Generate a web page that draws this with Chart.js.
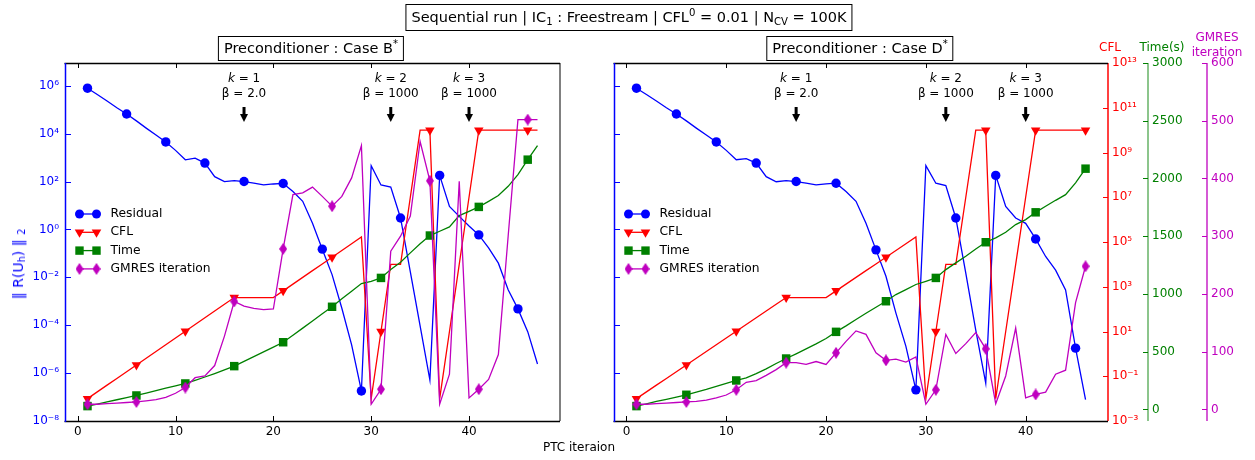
<!DOCTYPE html>
<html>
<head>
<meta charset="utf-8">
<script src="https://cdn.jsdelivr.net/npm/chart.js@4.4.1/dist/chart.umd.min.js"></script>
<style>
body { margin: 0; background: #fff; font-family: 'DejaVu Sans', sans-serif; }
#fig { position: relative; width: 1255px; height: 460px; overflow: hidden; }
canvas { position: absolute; top: 0; }
.txt { position: absolute; white-space: nowrap; line-height: 1; color: #000; }
.box { border: 1px solid #000; padding: 5px 5px 5px 5px; font-size: 14.5px; transform: translateX(-50%); }
.ctr { transform: translateX(-50%); font-size: 12px; }
sub { font-size: 70%; vertical-align: -0.25em; line-height: 0; }
sup { font-size: 70%; vertical-align: 0.55em; line-height: 0; }
</style>
</head>
<body>
<div id="fig">
  <canvas id="chartB" width="600" height="460" style="left:0"></canvas>
  <canvas id="chartD" width="655" height="460" style="left:600px"></canvas>

  <div class="txt box" style="left:629px; top:4px;">Sequential run | IC<sub>1</sub> : Freestream | CFL<sup>0</sup> = 0.01 | N<sub>CV</sub> = 100K</div>
  <div class="txt box" style="left:311px; top:36px; padding:4px 5px;">Preconditioner : Case B<sup>*</sup></div>
  <div class="txt box" style="left:860px; top:36px; padding:4px 5px;">Preconditioner : Case D<sup>*</sup></div>

  <div class="txt ctr" style="left:579px; top:441px; font-size:12px;">PTC iteraion</div>
  <div class="txt" style="left:18px; top:264px; font-size:14px; color:#0000ff; transform:translate(-50%,-50%) rotate(-90deg);">&#8214; R(U<sub>h</sub>) &#8214; <sub>2</sub></div>

  <div class="txt ctr" style="left:1110px; top:41px; color:#ff0000;">CFL</div>
  <div class="txt ctr" style="left:1162px; top:41px; color:#008000;">Time(s)</div>
  <div class="txt ctr" style="left:1217px; top:31px; color:#bf00bf;">GMRES</div>
  <div class="txt ctr" style="left:1217px; top:46px; color:#bf00bf;">iteration</div>
</div>

<script>
// PTC iterations
const itersB = [1, 2, 3, 4, 5, 6, 7, 8, 9, 10, 11, 12, 13, 14, 15, 16, 17, 18, 19, 20, 21, 22, 23, 24, 25, 26, 27, 28, 29, 30, 31, 32, 33, 34, 35, 36, 37, 38, 39, 40, 41, 42, 43, 44, 45, 46, 47];
const itersD = [1, 2, 3, 4, 5, 6, 7, 8, 9, 10, 11, 12, 13, 14, 15, 16, 17, 18, 19, 20, 21, 22, 23, 24, 25, 26, 27, 28, 29, 30, 31, 32, 33, 34, 35, 36, 37, 38, 39, 40, 41, 42, 43, 44, 45, 46];

// Case B*
const residualB = [7.9e5, 4.3e5, 2.3e5, 1.2e5, 6.6e4, 3.4e4, 1.7e4, 8.7e3, 4.5e3, 2.0e3,
    8.1e2, 9.5e2, 5.9e2, 1.6e2, 1.0e2, 1.1e2, 1.0e2, 85, 72, 79,
    83, 38, 15, 1.8, 0.15, 1.3e-2, 5.1e-4, 1.5e-5, 1.8e-7, 4.6e2,
    72, 59, 3.0, 1.7e-2, 9.3e-5, 5.1e-7, 1.8e2, 9.1, 3.5, 1.4,
    0.59, 0.17, 3.9e-2, 3.0e-3, 4.8e-4, 5.4e-5, 2.4e-6];
const cflB = [0.01, 0.02, 0.04, 0.08, 0.16, 0.32, 0.64, 1.28, 2.56, 5.12,
    10.2, 20.5, 41, 82, 164, 328, 328, 328, 328, 328,
    655, 1311, 2621, 5243, 10486, 20972, 41943, 83886, 167772, 0.01,
    10, 1e4, 1e4, 1e7, 1e10, 1e10, 0.01, 10, 1e4, 1e7,
    1e10, 1e10, 1e10, 1e10, 1e10, 1e10, 1e10];
const timeB = [29, 47, 66, 84, 103, 121, 142, 163, 184, 205,
    225, 252, 281, 311, 342, 375, 416, 457, 498, 540,
    582, 643, 704, 766, 828, 889, 958, 1024, 1090, 1110,
    1139, 1211, 1275, 1356, 1434, 1506, 1543, 1581, 1679, 1716,
    1754, 1802, 1852, 1932, 2033, 2163, 2284];
const gmresB = [9, 9, 10, 11, 12, 13, 15, 17, 21, 28,
    38, 55, 58, 76, 127, 187, 179, 175, 173, 174,
    278, 372, 375, 385, 369, 352, 369, 401, 457, 9,
    35, 274, 300, 335, 464, 396, 9, 61, 395, 20,
    35, 52, 95, 300, 502, 502, 502];

// Case D*
const residualD = [7.9e5, 4.3e5, 2.3e5, 1.2e5, 6.6e4, 3.4e4, 1.7e4, 8.7e3, 4.5e3, 2.0e3,
    8.1e2, 9.1e2, 5.9e2, 1.6e2, 98, 1.1e2, 1.0e2, 85, 72, 79,
    85, 38, 15, 1.8, 0.14, 1.1e-2, 3.2e-4, 1.3e-5, 2.0e-7, 4.6e2,
    85, 68, 3.0, 1.5e-2, 6.3e-5, 3.8e-7, 1.8e2, 9.1, 3.0, 1.8,
    0.40, 7.4e-2, 2.0e-2, 3.0e-3, 1.1e-5, 7.9e-8];
const cflD = [0.01, 0.02, 0.04, 0.08, 0.16, 0.32, 0.64, 1.28, 2.56, 5.12,
    10.2, 20.5, 41, 82, 164, 328, 328, 328, 328, 328,
    655, 1311, 2621, 5243, 10486, 20972, 41943, 83886, 167772, 0.01,
    10, 1e4, 1e4, 1e7, 1e10, 1e10, 0.01, 10, 1e4, 1e7,
    1e10, 1e10, 1e10, 1e10, 1e10, 1e10];
const timeD = [29, 49, 69, 87, 107, 127, 150, 173, 199, 225,
    251, 274, 311, 352, 398, 441, 482, 525, 568, 614,
    672, 724, 779, 833, 885, 937, 995, 1038, 1082, 1110,
    1139, 1211, 1269, 1327, 1390, 1448, 1486, 1534, 1601, 1644,
    1707, 1759, 1811, 1860, 1962, 2085];
const gmresD = [9, 9, 10, 11, 12, 13, 14, 16, 20, 25,
    34, 47, 50, 59, 69, 81, 81, 78, 83, 78,
    98, 118, 136, 130, 98, 85, 87, 82, 91, 9,
    34, 130, 97, 114, 133, 105, 10, 58, 141, 20,
    26, 30, 61, 68, 185, 248];

// ticks
const xTicks = [0, 10, 20, 30, 40];
const resTicks = [1e-8, 1e-6, 1e-4, 1e-2, 1, 1e2, 1e4, 1e6];
const cflTicks = [1e-3, 1e-1, 1e1, 1e3, 1e5, 1e7, 1e9, 1e11, 1e13];
const timeTicks = [0, 500, 1000, 1500, 2000, 2500, 3000];
const gmresTicks = [0, 100, 200, 300, 400, 500, 600];

// stage annotations
const annotIters = [17, 32, 40];
const annotK = ['1', '2', '3'];
const annotBeta = ['2.0', '1000', '1000'];

const seriesNames = ['Residual', 'CFL', 'Time', 'GMRES iteration'];

const BLUE = '#0000ff';
const RED = '#ff0000';
const GREEN = '#008000';
const MAGENTA = '#bf00bf';
const FONT = "'DejaVu Sans', sans-serif";

Chart.defaults.font.family = FONT;
Chart.defaults.font.size = 12;

// thin diamond marker
const diamond = document.createElement('canvas');
diamond.width = 8;
diamond.height = 12;
(function () {
    const c = diamond.getContext('2d');
    c.fillStyle = MAGENTA;
    c.beginPath();
    c.moveTo(4, 0);
    c.lineTo(8, 6);
    c.lineTo(4, 12);
    c.lineTo(0, 6);
    c.closePath();
    c.fill();
})();

const SUP = { '-': '\u207B', '0': '\u2070', '1': '\u00B9', '2': '\u00B2', '3': '\u00B3', '4': '\u2074', '5': '\u2075', '6': '\u2076', '7': '\u2077', '8': '\u2078', '9': '\u2079' };
function powLabel(v) {
    const e = String(Math.round(Math.log10(v)));
    return '10' + e.split('').map(ch => SUP[ch]).join('');
}

function drawMarker(ctx, kind, x, y, color) {
    ctx.fillStyle = color;
    ctx.beginPath();
    if (kind === 'circle') {
        ctx.arc(x, y, 4.5, 0, Math.PI * 2);
        ctx.fill();
    } else if (kind === 'tri') {
        ctx.moveTo(x - 4.8, y - 2.8);
        ctx.lineTo(x + 4.8, y - 2.8);
        ctx.lineTo(x, y + 5.5);
        ctx.closePath();
        ctx.fill();
    } else if (kind === 'square') {
        ctx.fillRect(x - 4.2, y - 4.2, 8.4, 8.4);
    } else {
        ctx.drawImage(diamond, x - 4, y - 6);
    }
}

function line(ctx, x1, y1, x2, y2, color, w) {
    ctx.strokeStyle = color;
    ctx.lineWidth = w || 1;
    ctx.beginPath();
    ctx.moveTo(x1, y1);
    ctx.lineTo(x2, y2);
    ctx.stroke();
}

// spines, inward ticks, annotations and legend
function decorPlugin(isRight) {
    return {
        id: 'decor',
        afterDraw(chart) {
            const ctx = chart.ctx;
            const a = chart.chartArea;
            const sx = chart.scales.x;
            const sRes = chart.scales.yRes;
            ctx.save();

            xTicks.forEach(v => {
                const px = Math.round(sx.getPixelForValue(v)) + 0.5;
                line(ctx, px, a.top, px, a.top + 5, '#000');
                line(ctx, px, a.bottom, px, a.bottom - 5, '#000');
            });
            resTicks.forEach(v => {
                const py = Math.round(sRes.getPixelForValue(v)) + 0.5;
                line(ctx, a.left, py, a.left + 6, py, BLUE);
            });

            if (isRight) {
                const sCfl = chart.scales.yCfl;
                const sTime = chart.scales.yTime;
                const sGm = chart.scales.yGm;
                cflTicks.forEach(v => {
                    const py = Math.round(sCfl.getPixelForValue(v)) + 0.5;
                    line(ctx, a.right, py, a.right - 5, py, RED);
                });
                timeTicks.forEach(v => {
                    const py = Math.round(sTime.getPixelForValue(v)) + 0.5;
                    line(ctx, sTime.left, py, sTime.left - 5, py, GREEN);
                });
                gmresTicks.forEach(v => {
                    const py = Math.round(sGm.getPixelForValue(v)) + 0.5;
                    line(ctx, sGm.left, py, sGm.left - 5, py, MAGENTA);
                });
                line(ctx, sTime.left, a.top, sTime.left, a.bottom, 'rgba(0,128,0,0.5)', 1.8);
                line(ctx, sGm.left, a.top, sGm.left, a.bottom, MAGENTA, 1.3);
                line(ctx, a.right, a.top, a.right, a.bottom, RED, 1.5);
            } else {
                line(ctx, a.right, a.top, a.right, a.bottom, '#808080', 2);
            }
            line(ctx, a.left - 0.5, a.top + 0.5, a.right, a.top + 0.5, '#000', 1.3);
            line(ctx, a.left - 0.5, a.bottom + 0.5, a.right, a.bottom + 0.5, '#000', 1.3);
            line(ctx, a.left + 0.5, a.top, a.left + 0.5, a.bottom + 1, BLUE, 1.5);

            // k / beta annotations with arrows
            ctx.fillStyle = '#000';
            ctx.textBaseline = 'middle';
            annotIters.forEach((it, j) => {
                const x = sx.getPixelForValue(it);
                ctx.font = 'italic 12px ' + FONT;
                const kW = ctx.measureText('k').width;
                ctx.font = '12px ' + FONT;
                const rest = ' = ' + annotK[j];
                const rW = ctx.measureText(rest).width;
                const x0 = x - (kW + rW) / 2;
                ctx.textAlign = 'left';
                ctx.font = 'italic 12px ' + FONT;
                ctx.fillText('k', x0, 79);
                ctx.font = '12px ' + FONT;
                ctx.fillText(rest, x0 + kW, 79);
                ctx.textAlign = 'center';
                ctx.fillText('\u03B2 = ' + annotBeta[j], x, 94);
                ctx.fillRect(x - 1.5, 107, 3, 8);
                ctx.beginPath();
                ctx.moveTo(x - 4, 114);
                ctx.lineTo(x + 4, 114);
                ctx.lineTo(x, 122);
                ctx.closePath();
                ctx.fill();
            });

            // legend
            const kinds = ['circle', 'tri', 'square', 'diamond'];
            const colors = [BLUE, RED, GREEN, MAGENTA];
            const lx = a.left + 14.5;
            seriesNames.forEach((name, k) => {
                const y = 214 + k * 18.3;
                line(ctx, lx, y, lx + 17, y, colors[k], 1.3);
                drawMarker(ctx, kinds[k], lx, y, colors[k]);
                drawMarker(ctx, kinds[k], lx + 17, y, colors[k]);
                ctx.fillStyle = '#000';
                ctx.font = '12.3px ' + FONT;
                ctx.textAlign = 'left';
                ctx.fillText(name, lx + 31, y);
            });
            ctx.restore();
        }
    };
}

// only shown axes take room
const fixWidth = w => s => { if (s.options.display) s.width = w; };

function buildPanel(canvasId, iters, residual, cfl, time, gmres, xMin, xMax, isRight) {
    const pts = vals => vals.map((v, k) => ({ x: iters[k], y: v }));
    const every = n => c => (c.dataIndex % n === 0 ? 1 : 0);

    const datasets = [
        {
            label: seriesNames[0], data: pts(residual), yAxisID: 'yRes', order: 4,
            borderColor: BLUE, backgroundColor: BLUE, borderWidth: 1.3,
            pointStyle: 'circle', pointRadius: c => every(4)(c) * 4.7
        },
        {
            label: seriesNames[1], data: pts(cfl), yAxisID: 'yCfl', order: 3,
            borderColor: RED, backgroundColor: RED, borderWidth: 1.3,
            pointStyle: 'triangle', pointRotation: 180, pointRadius: c => every(5)(c) * 5.5
        },
        {
            label: seriesNames[2], data: pts(time), yAxisID: 'yTime', order: 2,
            borderColor: GREEN, backgroundColor: GREEN, borderWidth: 1.3,
            pointStyle: 'rect', pointRadius: c => every(5)(c) * 6
        },
        {
            label: seriesNames[3], data: pts(gmres), yAxisID: 'yGm', order: 1,
            borderColor: MAGENTA, backgroundColor: MAGENTA, borderWidth: 1.3,
            pointStyle: diamond, pointRadius: c => every(5)(c) * 5
        }
    ];
    datasets.forEach(d => { d.pointBorderWidth = 0; d.tension = 0; });

    const noGrid = { display: false, drawTicks: false };
    const setTicks = list => scale => { scale.ticks = list.map(v => ({ value: v })); };

    const config = {
        type: 'line',
        data: { datasets: datasets },
        options: {
            responsive: false,
            animation: false,
            devicePixelRatio: 1,
            events: [],
            layout: { padding: isRight ? { left: 14, right: 0, top: 63, bottom: 0 } : { left: 0, right: 40, top: 63, bottom: 0 } },
            plugins: { legend: { display: false }, tooltip: { enabled: false } },
            scales: {
                x: {
                    type: 'linear', min: xMin, max: xMax, bounds: 'data',
                    grid: noGrid, border: { display: false },
                    afterBuildTicks: setTicks(xTicks),
                    afterFit: s => { s.height = 39; },
                    ticks: { color: '#000', padding: 4, maxRotation: 0, callback: v => String(v) }
                },
                yRes: {
                    type: 'logarithmic', position: 'left', min: 1e-8, max: 8.9e6, bounds: 'data',
                    display: !isRight,
                    grid: noGrid, border: { display: false },
                    afterBuildTicks: setTicks(resTicks),
                    afterFit: fixWidth(65),
                    ticks: { color: BLUE, padding: 6, callback: v => powLabel(v) }
                },
                yCfl: {
                    type: 'logarithmic', position: 'right', weight: 0, min: 1e-3, max: 1e13, bounds: 'data',
                    display: isRight,
                    grid: noGrid, border: { display: false },
                    afterBuildTicks: setTicks(cflTicks),
                    afterFit: fixWidth(40),
                    ticks: { color: RED, padding: 4, callback: v => powLabel(v) }
                },
                yTime: {
                    type: 'linear', position: 'right', weight: 1, min: -100, max: 3000, bounds: 'data',
                    display: isRight,
                    grid: noGrid, border: { display: false },
                    afterBuildTicks: setTicks(timeTicks),
                    afterFit: fixWidth(59),
                    ticks: { color: GREEN, padding: 4, callback: v => String(v) }
                },
                yGm: {
                    type: 'linear', position: 'right', weight: 2, min: -20, max: 600, bounds: 'data',
                    display: isRight,
                    grid: noGrid, border: { display: false },
                    afterBuildTicks: setTicks(gmresTicks),
                    afterFit: fixWidth(48),
                    ticks: { color: MAGENTA, padding: 4, callback: v => String(v) }
                }
            }
        },
        plugins: [decorPlugin(isRight)]
    };

    const ctx = document.getElementById(canvasId).getContext('2d');
    return new Chart(ctx, config);
}

buildPanel('chartB', itersB, residualB, cflB, timeB, gmresB, -1.3, 49.3, false);
buildPanel('chartD', itersD, residualD, cflD, timeD, gmresD, -1.25, 48.25, true);
</script>
</body>
</html>
